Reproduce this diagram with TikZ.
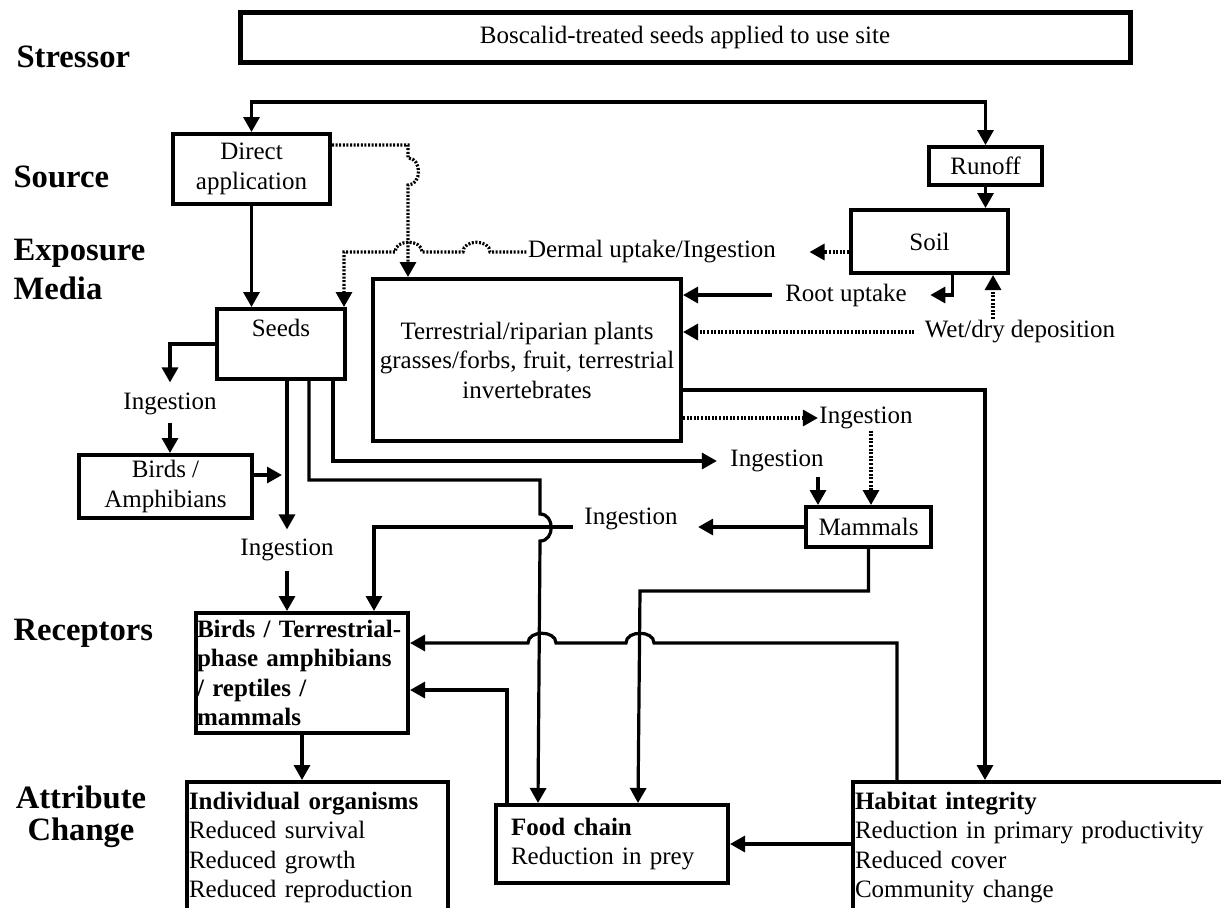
\documentclass[tikz,border=0pt]{standalone}
\usepackage{fontspec}
\setmainfont{Liberation Serif}
\usepackage{tikz}
\usetikzlibrary{arrows.meta}

\tikzset{
    box/.style={rectangle, draw, line width=2pt, inner sep=0pt, align=center},
    lbl/.style={inner sep=0pt},
    stage/.style={inner sep=0pt, align=left, font=\fontsize{16.3}{19.5}\selectfont\bfseries},
    arr/.style={-{Triangle[length=7.5pt,width=8pt]}},
    dots/.style={line width=1.6pt, dash pattern=on 1pt off 0.8pt}
}

\begin{document}
\begin{tikzpicture}[x=0.5pt, y=-0.5pt, line width=1.6pt, font=\fontsize{12.5}{14.75}\selectfont]
        \useasboundingbox (0,0) rectangle (1221,907);
        \clip (0,0) rectangle (1221,907);

        % Stage labels
        \node (lstressor) [stage, anchor=west] at (15,57) {Stressor};
        \node (lsource) [stage, anchor=west] at (12,177) {Source};
        \node (lmedia) [stage, anchor=west] at (12,269) {Exposure\\Media};
        \node (lreceptors) [stage, anchor=west] at (12,633) {Receptors};
        \node (lchange) [stage, align=center, font=\fontsize{16.3}{16}\selectfont\bfseries] at (81,817) {Attribute\\Change};

        % Stressor and sources
        \node (stressor) [box, line width=2.5pt, minimum width=445pt, minimum height=25pt] at (685,37) {Boscalid-treated seeds applied to use site};
        \node (direct) [box, minimum width=78.5pt, minimum height=35pt] at (251.5,169) {Direct\\application};
        \node (runoff) [box, minimum width=56.5pt, minimum height=19pt] at (985.5,166) {Runoff};
        \coordinate (top) at (618,102);

        % Exposure media
        \node (soil) [box, minimum width=78.5pt, minimum height=31.5pt] at (929.5,241.5) {Soil};
        \node (seeds) [box, minimum width=64pt, inner ysep=3.5pt, text height=10pt, text depth=18pt, anchor=north] at (281,307) {Seeds};
        \node (plants) [box, minimum width=154pt, minimum height=81pt] at (527,360) {Terrestrial/riparian plants\\grasses/forbs, fruit, terrestrial\\invertebrates};
        \node (birds) [box, minimum width=86.5pt, minimum height=31.5pt] at (165.5,486.5) {Birds /\\Amphibians};
        \node (mammals) [box, minimum width=62.5pt, minimum height=20pt] at (868.5,527) {Mammals};

        % Route labels
        \node (dermal) [lbl] at (652,252) {Dermal uptake/Ingestion};
        \node (root) [lbl] at (846,295) {Root uptake};
        \node (wetdry) [lbl] at (1020,332) {Wet/dry deposition};
        \node (ingL) [lbl] at (170,404) {Ingestion};
        \node (ingP) [lbl] at (866,418) {Ingestion};
        \node (ingS) [lbl] at (777,461) {Ingestion};
        \node (ingM) [lbl] at (631,519) {Ingestion};
        \node (ingR) [lbl] at (287,550) {Ingestion};

        % Receptors and attribute change
        \node (receptors) [box, align=left, text width=105pt, inner xsep=0.5pt, minimum height=60pt, font=\fontsize{12.5}{14.75}\selectfont\bfseries] at (302,673) {Birds / Terrestrial-\\phase amphibians\\/ reptiles /\\mammals};
        \node (indiv) [box, align=left, anchor=north west, text width=128.5pt, inner xsep=1pt, inner ysep=5pt, text depth=55pt] at (185,780) {\textbf{Individual organisms}\\Reduced survival\\Reduced growth\\Reduced reproduction};
        \node (food) [box, align=left, text width=101pt, inner xsep=7.5pt, minimum height=39pt] at (612,844) {\textbf{Food chain}\\Reduction in prey};
        \node (habitat) [box, align=left, anchor=north west, text width=200pt, inner xsep=1pt, inner ysep=5pt, text depth=55pt] at (851,780) {\textbf{Habitat integrity}\\Reduction in primary productivity\\Reduced cover\\Community change};

        % Helper points
        \coordinate (pl1) at ([xshift=-59.5pt]plants.north);
        \coordinate (wd) at ([xshift=-13.5pt]wetdry.north);
        \coordinate (pm) at ([xshift=2.5pt]ingP.south);
        \coordinate (sm) at ([xshift=20.5pt]ingS.south);
        \coordinate (ba) at ([yshift=5.75pt]birds.east);
        \coordinate (rc2) at ([xshift=36pt]receptors.north);
        \coordinate (fc1) at ([xshift=22pt]food.north west);
        \coordinate (fc2) at ([xshift=72pt]food.north west);
        \coordinate (hb) at ([xshift=23pt]habitat.north west);

        % Arrows
        \draw[arr] (top) -| (direct);
        \draw[arr] (top) -| (runoff);
        \draw[arr] (runoff) -- (runoff |- soil.north);
        \draw[arr] (direct) -- (direct |- seeds.north);
        \draw[dots, arr] ([yshift=12pt]direct.east) -- (408,145) -- (408,158) .. controls (422,158) and (422,185) .. (408,185) -- (pl1);
        \draw[dots, arr, shorten >=16pt] (soil.west |- dermal) -- (dermal);
        \draw[dots, arr] (dermal) -- (490,252) .. controls (490,239) and (463,239) .. (463,252) -- (422,252) .. controls (422,239) and (395,239) .. (395,252) -| ([xshift=-1.5pt]seeds.north east);
        \draw[arr, shorten >=11pt] ([xshift=11.5pt]soil.south) |- (root);
        \draw[arr, shorten <=6pt] (root) -- (plants.east |- root);
        \draw[dots, arr, shorten <=4.5pt] (wetdry) -- (plants.east |- wetdry);
        \draw[dots, arr] (wd) -- (wd |- soil.south);
        \draw[arr] ([yshift=-15pt]plants.east) -| ([xshift=67pt]habitat.north west);
        \draw[dots, arr] (plants.east |- ingP) -- (ingP);
        \draw[dots, arr] (pm) -- (pm |- mammals.north);
        \draw[arr, shorten >=6pt] ([xshift=-7pt]seeds.south east) |- (ingS);
        \draw[arr, shorten <=1.5pt] (sm) -- (sm |- mammals.north);
        \draw[arr, shorten >=9.5pt] (mammals.west) -- (ingM.east |- mammals.west);
        \draw[arr, shorten <=5pt] (ingM.west |- mammals.west) -| (rc2);
        \draw[arr] ([xshift=14pt]seeds.south) |- (540,480) -- (540,514) .. controls (555,514) and (555,541) .. (540,541) -- (fc1);
        \draw[arr, shorten >=4.5pt] (seeds.west) -| (ingL);
        \draw[arr, shorten <=3pt] (ingL) -- (ingL |- birds.north);
        \draw[arr, shorten >=2.5pt] (ba) -- (ba -| ingR);
        \draw[arr, shorten >=4pt] (seeds.south -| ingR) -- (ingR);
        \draw[arr, shorten <=4pt] (ingR) -- (ingR |- receptors.north);
        \draw[arr] (mammals.south) |- (640,591) -- (fc2);
        \draw[arr] (hb) -- (897,643) -- (654,643) .. controls (654,630) and (626,630) .. (626,643) -- (556,643) .. controls (556,630) and (528,630) .. (528,643) -- ([yshift=15pt]receptors.east);
        \draw[arr] ([xshift=6.5pt]food.north west) |- ([yshift=-8.5pt]receptors.east);
        \draw[arr] (receptors) -- (receptors |- indiv.north);
        \draw[arr] (habitat.west |- food) -- (food);
    \end{tikzpicture}
\end{document}
